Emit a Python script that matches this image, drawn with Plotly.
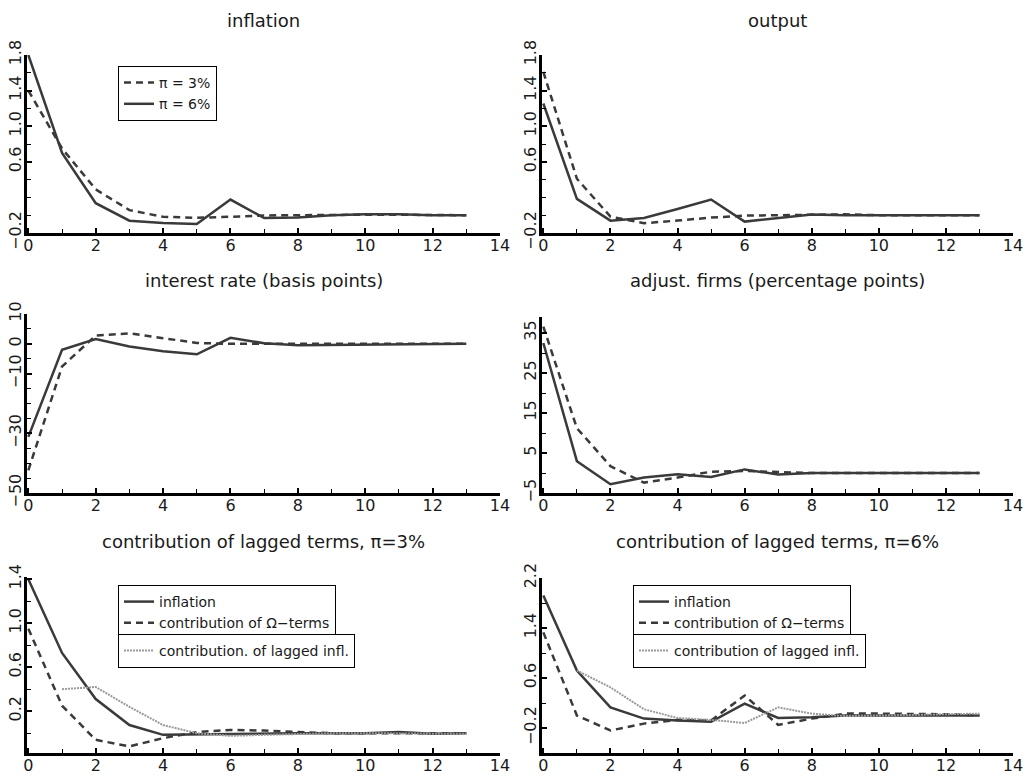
import plotly.graph_objects as go

# ---------------- data ----------------
t = list(range(14))

# inflation panel
infl_pi3 = [1.40, 0.75, 0.29, 0.057, -0.018, -0.029, -0.018, -0.003, 0.0, 0.005, 0.005, 0.005, 0.0, 0.0]
infl_pi6 = [1.80, 0.70, 0.135, -0.062, -0.088, -0.10, 0.176, -0.032, -0.025, 0.0, 0.01, 0.01, 0.0, 0.0]

# output panel
out_pi3 = [1.61, 0.41, -0.016, -0.09, -0.06, -0.027, -0.005, 0.0, 0.01, 0.01, 0.0, 0.0, 0.0, 0.0]
out_pi6 = [1.255, 0.183, -0.061, -0.031, 0.07, 0.176, -0.072, -0.03, 0.007, 0.0, 0.0, 0.0, 0.0, 0.0]

# interest rate panel (basis points)
rate_pi3 = [-42.4, -7.6, 2.8, 3.5, 1.9, 0.3, 0.0, 0.0, 0.0, 0.0, 0.0, 0.0, 0.0, 0.0]
rate_pi6 = [-31.2, -2.0, 1.6, -0.9, -2.5, -3.5, 2.0, 0.2, -0.5, -0.4, -0.2, 0.0, 0.0, 0.0]

# adjusting firms panel (percentage points)
adj_pi3 = [36.6, 11.2, 1.7, -2.4, -1.15, 0.33, 0.5, 0.25, 0.0, 0.0, 0.0, 0.0, 0.0, 0.0]
adj_pi6 = [32.5, 2.96, -2.8, -1.15, -0.33, -1.0, 0.9, -0.4, 0.0, 0.0, 0.0, 0.0, 0.0, 0.0]

# contribution of lagged terms, pi = 3%
c3_infl = [1.40, 0.73, 0.31, 0.074, -0.015, -0.01, -0.005, 0.0, 0.0, 0.0, 0.0, 0.01, -0.005, 0.0]
c3_omega = [0.95, 0.25, -0.06, -0.12, -0.045, 0.01, 0.03, 0.024, 0.01, 0.0, 0.0, 0.0, 0.0, 0.0]
c3_lagged = [None, 0.40, 0.42, 0.24, 0.074, 0.0, -0.024, -0.015, -0.006, 0.0, 0.0, 0.0, -0.006, -0.006]

# contribution of lagged terms, pi = 6%
c6_infl = [1.92, 0.72, 0.13, -0.05, -0.08, -0.10, 0.19, -0.04, -0.03, 0.0, 0.0, 0.0, 0.0, 0.0]
c6_omega = [1.33, 0.0, -0.24, -0.13, -0.07, -0.08, 0.32, -0.15, -0.05, 0.03, 0.03, 0.03, 0.02, 0.0]
c6_lagged = [None, 0.72, 0.45, 0.10, -0.04, -0.07, -0.12, 0.13, 0.03, -0.01, 0.0, 0.0, 0.02, 0.03]

titles = ["inflation", "output", "interest rate (basis points)",
          "adjust. firms (percentage points)",
          "contribution of lagged terms, \u03c0=3%", "contribution of lagged terms, \u03c0=6%"]

# ---------------- styling ----------------
W, H = 1026, 776
FONT = "DejaVu Sans"
TXT = "#1a1a1a"
SOLID = dict(color="#3a3a3a", width=2.5)
DASH = dict(color="#3a3a3a", width=2.5, dash="7px,5px")
DOT = dict(color="#9a9a9a", width=2, dash="2px,1px")

# panel pixel boxes (left, right, top, bottom)
boxes = [(27, 500, 55, 233), (542, 1013, 55, 233),
         (27, 500, 314, 493), (542, 1013, 317, 493),
         (27, 500, 577, 753), (542, 1013, 578, 753)]
title_rows = [20, 20, 280, 280, 541, 541]


def px_x(v):
    return v / W


def px_y(v):
    return 1 - v / H


fig = go.Figure()


def add(idx, y, line, name=None, legend=None):
    ax = "" if idx == 1 else str(idx)
    fig.add_trace(go.Scatter(
        x=t, y=y, mode="lines", line=line, name=name or "",
        xaxis="x" + ax, yaxis="y" + ax,
        showlegend=legend is not None, legend=legend or "legend",
        connectgaps=False, hoverinfo="skip"))


add(1, infl_pi3, DASH, "\u03c0 = 3%", "legend")
add(1, infl_pi6, SOLID, "\u03c0 = 6%", "legend")
add(2, out_pi3, DASH)
add(2, out_pi6, SOLID)
add(3, rate_pi3, DASH)
add(3, rate_pi6, SOLID)
add(4, adj_pi3, DASH)
add(4, adj_pi6, SOLID)
add(5, c3_infl, SOLID, "inflation", "legend2")
add(5, c3_omega, DASH, "contribution of \u03a9\u2212terms", "legend2")
add(5, c3_lagged, DOT, "contribution. of lagged infl.", "legend3")
add(6, c6_infl, SOLID, "inflation", "legend4")
add(6, c6_omega, DASH, "contribution of \u03a9\u2212terms", "legend4")
add(6, c6_lagged, DOT, "contribution of lagged infl.", "legend5")

# y-axis tick specs: (range, labelled values, labels, minor step, minor start)
yspecs = [
    ([-0.2, 1.8], [-0.2, 0.6, 1.0, 1.4, 1.8], ["\u22120.2", "0.6", "1.0", "1.4", "1.8"], 0.2, -0.2),
    ([-0.2, 1.8], [-0.2, 0.6, 1.0, 1.4, 1.8], ["\u22120.2", "0.6", "1.0", "1.4", "1.8"], 0.2, -0.2),
    ([-50, 10], [-50, -30, -10, 0, 10], ["\u221250", "\u221230", "\u221210", "0", "10"], 5, -50),
    ([-5, 39], [-5, 5, 15, 25, 35], ["\u22125", "5", "15", "25", "35"], 5, -5),
    ([-0.18, 1.42], [0.2, 0.6, 1.0, 1.4], ["0.2", "0.6", "1.0", "1.4"], 0.2, 0.0),
    ([-0.6, 2.2], [-0.2, 0.6, 1.4, 2.2], ["\u22120.2", "0.6", "1.4", "2.2"], 0.4, -0.2),
]

layout = dict(
    width=W, height=H, margin=dict(l=0, r=0, t=0, b=0),
    paper_bgcolor="white", plot_bgcolor="white",
    font=dict(family=FONT, size=15, color=TXT),
    annotations=[],
)

for i, (l, r, tp, bt) in enumerate(boxes):
    idx = i + 1
    ax = "" if idx == 1 else str(idx)
    rng, tv, tt, mstep, m0 = yspecs[i]
    layout["xaxis" + ax] = dict(
        domain=[px_x(l), px_x(r)], anchor="y" + ax, range=[-0.04, 14],
        tickvals=list(range(0, 15, 2)), ticktext=[str(v) for v in range(0, 15, 2)],
        ticks="inside", ticklen=5, tickwidth=1.5, tickcolor="black",
        minor=dict(dtick=1, tick0=0, ticks="inside", ticklen=4, tickwidth=1.2, tickcolor="black"),
        showline=True, linecolor="black", linewidth=2.5, showgrid=False, zeroline=False,
        tickfont=dict(size=16, color=TXT), ticklabelstandoff=-4,
        automargin=False, fixedrange=True)
    layout["yaxis" + ax] = dict(
        domain=[px_y(bt), px_y(tp)], anchor="x" + ax, range=rng,
        tickvals=tv, ticktext=tt, tickangle=-90,
        ticks="inside", ticklen=5, tickwidth=1.5, tickcolor="black",
        minor=dict(dtick=mstep, tick0=m0, ticks="inside", ticklen=4, tickwidth=1.2, tickcolor="black"),
        showline=True, linecolor="black", linewidth=2.5, showgrid=False, zeroline=False,
        tickfont=dict(size=16, color=TXT), ticklabelstandoff=-3,
        automargin=False, fixedrange=True)
    layout["annotations"].append(dict(
        text=titles[i], x=px_x((l + r) / 2), y=px_y(title_rows[i]),
        xref="paper", yref="paper", showarrow=False, xanchor="center", yanchor="middle",
        font=dict(size=18, family=FONT, color=TXT)))

leg_common = dict(xanchor="left", yanchor="top", bordercolor="black", borderwidth=1,
                  bgcolor="white", font=dict(size=14, family=FONT, color=TXT),
                  tracegroupgap=0, itemwidth=30, traceorder="normal")
layout["legend"] = dict(x=px_x(118), y=px_y(66), **leg_common)
layout["legend2"] = dict(x=px_x(118), y=px_y(585), **leg_common)
layout["legend3"] = dict(x=px_x(118), y=px_y(634), **leg_common)
layout["legend4"] = dict(x=px_x(633), y=px_y(585), **leg_common)
layout["legend5"] = dict(x=px_x(633), y=px_y(634), **leg_common)

fig.update_layout(**layout)
fig.write_html("out.html", config={"displayModeBar": False},
               post_script="document.body.style.margin='0';document.body.style.overflow='hidden';")
